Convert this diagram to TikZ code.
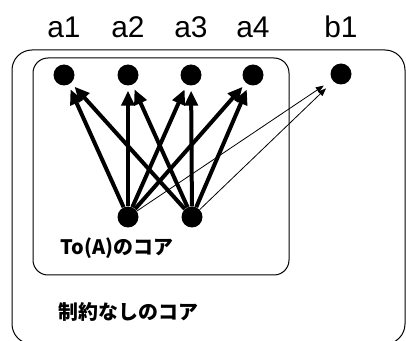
\documentclass[tikz,border=0pt]{standalone}
\usepackage{fontspec}
\setmainfont{Liberation Sans}
\newfontfamily\jpfont{Noto Sans CJK JP}
\usetikzlibrary{arrows.meta,positioning}
\tikzset{
  dot/.style={circle,fill=black,inner sep=0pt,minimum size=21bp},
  lab/.style={font=\fontsize{30}{34}\selectfont,anchor=base},
  core/.style={font=\jpfont\bfseries\fontsize{20}{24}\selectfont,anchor=west},
  arr/.style={line width=4bp,shorten >=5bp,-{Triangle[length=15bp,width=13bp]}},
  thinarr/.style={line width=0.8bp,shorten >=10bp,-{Triangle[length=8bp,width=6bp]}}
}

\begin{document}
\begin{tikzpicture}[x=1bp,y=1bp]
  \useasboundingbox (0,0) rectangle (406,341);
  % the two cores
  \draw[line width=1bp,rounded corners=20bp] (12,-3) rectangle (405,291);
  \draw[line width=1bp,rounded corners=15bp] (33,66) rectangle (289,283);
  % top row
  \node[dot] (a1) at (64,266) {};
  \node[dot] (a2) at (128,266) {};
  \node[dot] (a3) at (191,266) {};
  \node[dot] (a4) at (253,266) {};
  \node[dot] (b1) at (341,267) {};
  \foreach \n in {a1,a2,a3,a4,b1}
    \node[lab] (l\n) at (\n |- 0,304) {\n};
  % bottom row
  \node[dot] (c1) at (128,124) {};
  \node[dot] (c2) at (192,124) {};
  \foreach \s in {c1,c2}{
    \foreach \t in {a1,a2,a3,a4}
      \draw[arr] (\s) -- (\t);
    \draw[thinarr] (\s) -- (b1);
  }
  \node[core] (toa) at (57,93) {To(A)のコア};
  \node[core] (free) at (55,29) {制約なしのコア};
\end{tikzpicture}
\end{document}
